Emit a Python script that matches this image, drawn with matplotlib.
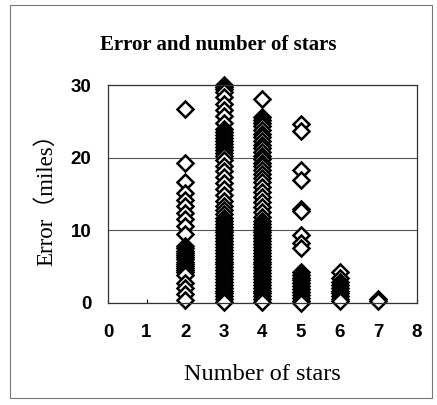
import matplotlib
matplotlib.use("Agg")
from matplotlib import pyplot as plt
from matplotlib.patches import Rectangle

# error readings (miles) grouped by number of stars used
stars_2 = [26.7, 19.3, 16.6, 15.1, 14.2, 13.3, 12.4, 11.5, 10.6, 9.5,
           7.8, 7.5, 7.2, 6.9, 6.6, 6.3, 6.0, 5.7, 5.4, 5.1, 4.8, 4.5,
           4.2, 3.9, 2.8, 2.0, 1.2, 0.4]
stars_3 = [30.0, 29.7, 29.4, 29.1, 28.3, 27.4, 26.6, 25.7, 24.8, 24.0,
           23.5, 23.1, 22.7, 22.3, 21.9, 21.5, 21.1, 20.7, 20.3, 19.7,
           18.9, 18.1, 17.3, 16.5, 15.7, 14.9, 14.1, 13.4, 12.8, 12.2,
           11.7, 11.3, 10.9, 10.5, 10.1, 9.7, 9.3, 8.9, 8.5, 8.1, 7.7,
           7.3, 6.9, 6.5, 6.1, 5.7, 5.3, 4.9, 4.5, 4.1, 3.7, 3.3, 2.9,
           2.5, 2.1, 1.7, 1.3, 0.9, 0.5, 0.1]
stars_4 = [28.1, 25.6, 25.2, 24.8, 24.3, 23.8, 23.3, 22.8, 22.3, 21.8,
           21.3, 20.8, 20.3, 19.8, 19.3, 18.8, 18.3, 17.8, 17.2, 16.6,
           16.0, 15.3, 14.6, 13.9, 13.2, 12.5, 11.8, 11.3, 10.9, 10.5,
           10.1, 9.7, 9.3, 8.9, 8.5, 8.1, 7.7, 7.3, 6.9, 6.5, 6.1, 5.7,
           5.3, 4.9, 4.5, 4.1, 3.7, 3.3, 2.9, 2.5, 2.1, 1.7, 1.3, 0.9,
           0.5, 0.1]
stars_5 = [24.7, 23.7, 18.3, 16.9, 12.9, 12.6, 9.3, 8.2, 7.5,
           4.3, 3.9, 3.5, 3.1, 2.7, 2.3, 1.9, 1.5, 1.1, 0.7, 0.3, 0.0]
stars_6 = [4.3, 3.4, 2.9, 2.5, 2.1, 1.7, 1.3, 0.9, 0.5, 0.2]
stars_7 = [0.6, 0.3]

groups = {2: stars_2, 3: stars_3, 4: stars_4, 5: stars_5, 6: stars_6, 7: stars_7}

fig = plt.figure(figsize=(4.37, 4.05), dpi=100)
ax = fig.add_axes([0.247, 0.252, 0.707, 0.538])

for n, errs in groups.items():
    ax.plot([n] * len(errs), errs, linestyle="none", marker="D",
            markersize=8.3, markerfacecolor="white", markeredgecolor="black",
            markeredgewidth=1.8, clip_on=False)

ax.set_xlim(0, 8)
ax.set_ylim(0, 30)
ax.set_xticks(range(0, 9))
ax.set_yticks([0, 10, 20, 30])
ax.yaxis.grid(True, color="#555555", linewidth=0.8)
ax.set_axisbelow(True)
for sp in ax.spines.values():
    sp.set_linewidth(0.9)
    sp.set_color("#333333")

ax.tick_params(axis="x", direction="in", length=3, pad=15)
ax.tick_params(axis="y", length=0, pad=12)
for lbl in ax.get_xticklabels() + ax.get_yticklabels():
    lbl.set_fontfamily("Liberation Sans")
    lbl.set_fontweight("bold")
    lbl.set_fontsize(13.5)

fig.text(0.5, 1 - 45 / 405, "Error and number of stars", family="Liberation Serif",
         fontweight="bold", fontsize=15, ha="center", va="center")
ax.set_xlabel("Number of stars", family="Liberation Serif", fontsize=17.5, labelpad=17)
ax.set_ylabel("Error（miles）", family=["Liberation Serif", "Noto Sans CJK JP"],
              fontsize=16.5, labelpad=10)

# thin frame round the whole chart
fig.patches.append(Rectangle((10 / 437, 7 / 405), 422 / 437, 393 / 405,
                             transform=fig.transFigure, fill=False,
                             edgecolor="#777777", linewidth=0.8))

fig.savefig("out.png", dpi=100)
